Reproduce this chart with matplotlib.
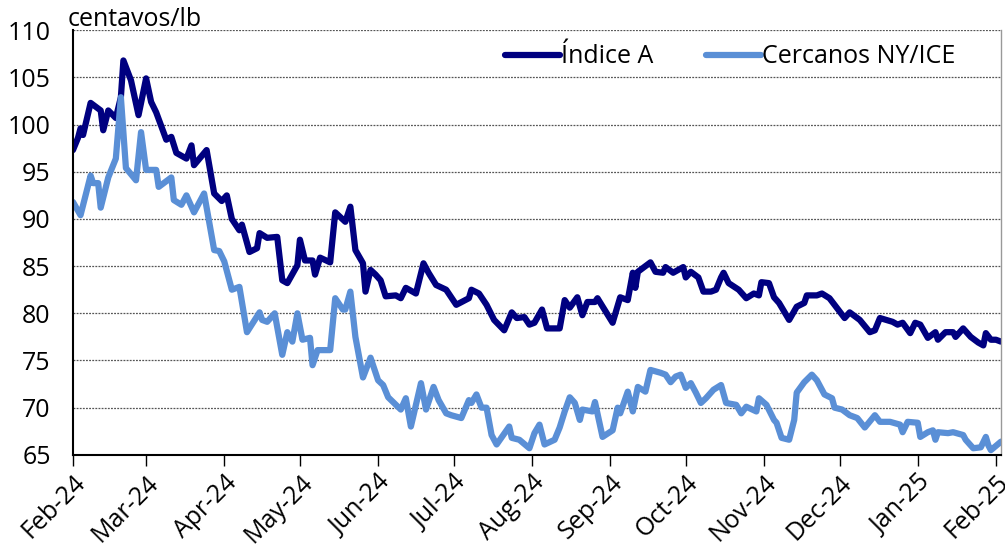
import pandas as pd
import matplotlib.pyplot as plt
import matplotlib.dates as mdates

plt.rcParams['font.family'] = ['Open Sans', 'DejaVu Sans']

start = pd.Timestamp('2024-02-01')

# Índice A (days since 1 Feb 2024, centavos/lb)
a_days = [0, 2, 3, 4, 7, 11, 12, 14, 17, 19, 20, 23, 26, 29, 31, 33, 37, 39, 41, 45,
          47, 48, 53, 56, 59, 61, 63, 66, 67, 70, 73, 74, 77, 81, 83, 85, 89, 90, 92, 95,
          96, 98, 102, 104, 108, 110, 112, 115, 116, 118, 120, 122, 124, 128, 130, 132, 136, 139, 141, 144,
          148, 152, 157, 158, 161, 164, 167, 171, 174, 176, 179, 181, 183, 186, 188, 193, 195, 197, 200, 202,
          204, 207, 208, 214, 217, 220, 222, 223, 224, 229, 231, 234, 235, 238, 242, 243, 245, 248, 250, 253,
          255, 257, 258, 260, 264, 267, 270, 272, 273, 276, 278, 280, 284, 287, 290, 291, 295, 297, 300, 302,
          306, 308, 312, 316, 318, 320, 325, 327, 329, 332, 334, 336, 339, 342, 343, 346, 349, 350, 353, 356,
          359, 361, 362, 364, 366, 368]
a_vals = [97.3, 98.6, 99.6, 98.9, 102.3, 101.5, 99.4, 101.5, 100.7, 102.9, 106.8, 104.7, 101.0, 104.9, 102.4, 101.3, 98.4, 98.7, 97.0, 96.4,
          97.8, 95.7, 97.3, 92.7, 91.9, 92.5, 90.0, 88.8, 89.4, 86.5, 86.9, 88.5, 88.0, 88.1, 83.5, 83.2, 85.1, 87.8, 85.6, 85.6,
          84.1, 85.9, 85.4, 90.7, 89.7, 91.3, 86.7, 85.3, 82.3, 84.6, 84.1, 83.5, 81.8, 81.9, 81.6, 82.7, 82.1, 85.3, 84.3, 83.0,
          82.5, 80.9, 81.6, 82.5, 82.1, 80.9, 79.3, 78.2, 80.1, 79.5, 79.6, 78.8, 79.0, 80.4, 78.4, 78.4, 81.4, 80.6, 81.7, 79.8,
          81.2, 81.2, 81.6, 79.0, 81.7, 81.4, 84.3, 82.7, 84.4, 85.4, 84.4, 84.3, 84.9, 84.3, 84.9, 83.8, 84.4, 83.8, 82.3, 82.3,
          82.5, 83.8, 84.3, 83.2, 82.5, 81.6, 82.1, 81.9, 83.3, 83.2, 81.7, 81.1, 79.3, 80.7, 81.1, 81.9, 81.9, 82.1, 81.6, 80.9,
          79.5, 80.1, 79.3, 78.0, 78.2, 79.5, 79.1, 78.8, 79.0, 77.9, 79.0, 78.8, 77.4, 78.0, 77.2, 78.0, 78.0, 77.5, 78.4, 77.5,
          76.9, 76.6, 77.9, 77.2, 77.2, 77.0]

# Cercanos NY/ICE
c_days = [0, 3, 7, 8, 10, 11, 14, 17, 19, 21, 25, 27, 29, 33, 34, 39, 40, 43, 45, 48,
          52, 56, 58, 60, 63, 66, 69, 74, 75, 77, 80, 83, 85, 87, 89, 91, 94, 95, 97, 102,
          104, 107, 108, 110, 112, 115, 118, 121, 123, 125, 130, 132, 134, 138, 140, 143, 145, 148, 150, 154,
          157, 158, 160, 162, 164, 166, 168, 173, 174, 177, 181, 183, 185, 187, 191, 193, 195, 197, 199, 201,
          202, 206, 207, 210, 214, 216, 217, 220, 222, 224, 227, 229, 233, 235, 237, 239, 241, 243, 245, 247,
          249, 251, 254, 257, 259, 263, 265, 267, 271, 272, 275, 278, 279, 281, 284, 286, 287, 290, 293, 295,
          298, 301, 302, 305, 306, 308, 311, 314, 318, 320, 324, 328, 329, 331, 335, 336, 339, 341, 342, 343,
          347, 349, 353, 354, 357, 360, 362, 363, 364, 368]
c_vals = [91.8, 90.4, 94.6, 93.8, 93.8, 91.2, 94.4, 96.4, 102.9, 95.4, 94.1, 99.2, 95.2, 95.2, 93.4, 94.4, 92.0, 91.5, 92.5, 90.7,
          92.7, 86.7, 86.6, 85.5, 82.5, 82.8, 78.0, 80.1, 79.3, 79.1, 80.0, 75.6, 78.0, 77.0, 80.0, 77.2, 77.4, 74.5, 76.1, 76.1,
          81.6, 80.4, 80.4, 82.3, 77.5, 73.2, 75.3, 72.9, 72.4, 71.1, 69.8, 71.0, 68.0, 72.6, 69.8, 72.2, 70.8, 69.4, 69.2, 68.9,
          70.8, 70.5, 71.4, 70.0, 70.0, 67.1, 66.1, 68.0, 66.8, 66.6, 65.7, 67.3, 68.2, 66.1, 66.6, 67.9, 69.6, 71.1, 70.5, 68.7,
          69.8, 69.6, 70.6, 66.9, 67.6, 70.0, 69.4, 71.7, 69.6, 72.2, 71.7, 74.0, 73.7, 73.5, 72.7, 73.3, 73.5, 72.1, 72.6, 71.6,
          70.5, 71.0, 71.9, 72.4, 70.5, 70.3, 69.4, 70.1, 69.6, 71.0, 70.3, 68.7, 68.4, 66.8, 66.6, 68.7, 71.6, 72.7, 73.5, 72.9,
          71.4, 71.0, 70.0, 69.8, 69.6, 69.2, 68.9, 67.9, 69.2, 68.5, 68.5, 68.2, 67.4, 68.5, 68.4, 66.9, 67.4, 67.6, 66.6, 67.4,
          67.3, 67.4, 67.1, 66.6, 65.7, 65.8, 66.9, 66.0, 65.5, 66.4]

a_dates = start + pd.to_timedelta(a_days, unit='D')
c_dates = start + pd.to_timedelta(c_days, unit='D')

fig = plt.figure(figsize=(10.05, 5.5), dpi=100)
ax = fig.add_axes([0.0726, 0.173, 0.9234, 0.772])

ax.plot(a_dates, a_vals, color='#000080', linewidth=4.5, label='Índice A',
        solid_joinstyle='round', solid_capstyle='round')
ax.plot(c_dates, c_vals, color='#5A8FD6', linewidth=4.5, label='Cercanos NY/ICE',
        solid_joinstyle='round', solid_capstyle='round')

ax.set_ylim(65, 110)
ax.set_yticks(range(65, 111, 5))
ax.set_xlim(start, start + pd.Timedelta(days=368))
ax.xaxis.set_major_locator(mdates.MonthLocator())
ax.xaxis.set_major_formatter(mdates.DateFormatter('%b-%y'))

ax.grid(axis='y', linestyle=(0, (1.5, 1)), color='#555555', linewidth=0.9)
ax.set_axisbelow(True)

for s in ['left', 'bottom']:
    ax.spines[s].set_color('black')
    ax.spines[s].set_linewidth(1.5)
ax.spines['top'].set_visible(False)
ax.spines['right'].set_color('#999999')
ax.spines['right'].set_linewidth(1)

ax.tick_params(axis='y', length=0, pad=16, labelsize=18)
ax.tick_params(axis='x', length=8, width=1, direction='out', pad=3, labelsize=18)
plt.setp(ax.get_xticklabels(), rotation=45, ha='right', rotation_mode='anchor')

ax.text(-0.006, 0.995, 'centavos/lb', transform=ax.transAxes, fontsize=18, va='bottom', ha='left')

ax.legend(loc='upper right', bbox_to_anchor=(0.975, 1.02), ncol=2, frameon=False, fontsize=18,
          handlelength=2.2, handletextpad=0.05, columnspacing=2.1)

fig.savefig('out.png', dpi=100)
